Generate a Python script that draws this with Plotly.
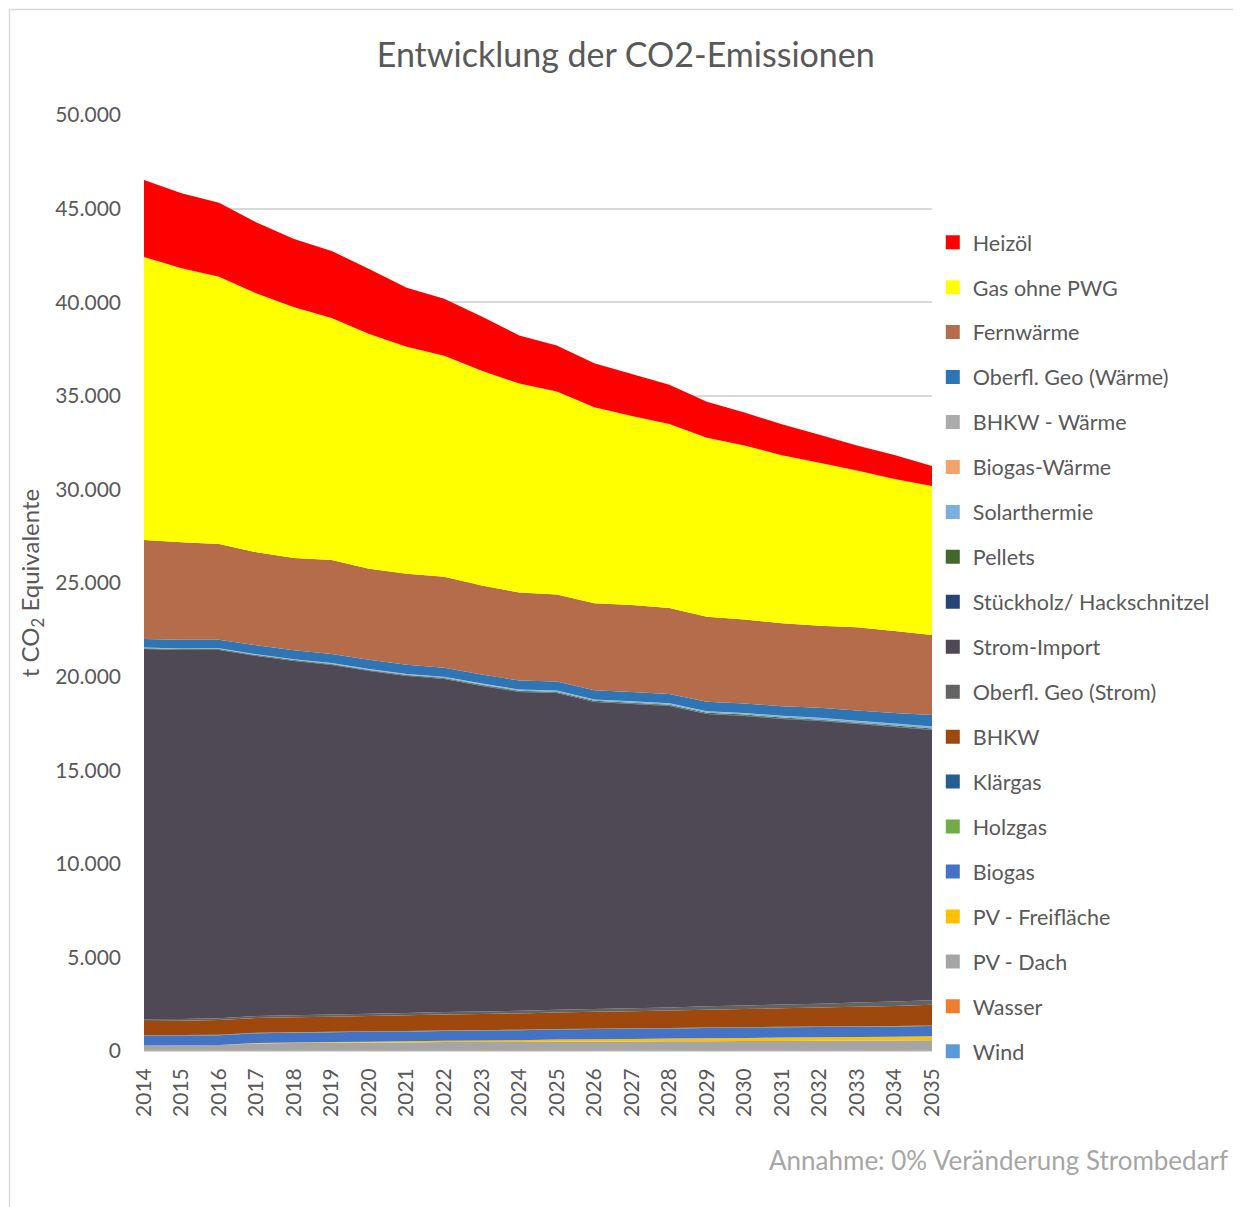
# -*- coding: utf-8 -*-
"""
Gestapeltes Flächendiagramm: Entwicklung der CO2-Emissionen 2014-2035
(t CO2 Äquivalente je Energieträger)
"""

import plotly.graph_objects as go

# Jahre (x-Achse)
years = ['2014', '2015', '2016', '2017', '2018', '2019', '2020', '2021', '2022', '2023', '2024',
         '2025', '2026', '2027', '2028', '2029', '2030', '2031', '2032', '2033', '2034', '2035']

# Werte in t CO2 Äquivalente
heizoel = [4120, 4000, 3950, 3790, 3640, 3580, 3470, 3150, 3040, 2890, 2570,
           2460, 2350, 2250, 2090, 1920, 1760, 1650, 1500, 1340, 1280, 1070]
gas_ohne_pwg = [15110, 14640, 14270, 13830, 13400, 12930, 12550, 12130, 11810, 11480, 11160,
                10840, 10470, 10100, 9830, 9570, 9300, 8980, 8710, 8380, 8120, 7960]
fernwaerme = [5290, 5210, 5120, 4970, 4920, 5020, 4860, 4860, 4860, 4750, 4700,
              4650, 4650, 4640, 4590, 4540, 4480, 4430, 4380, 4440, 4380, 4270]
geo_waerme = [455, 460, 460, 475, 480, 485, 485, 485, 485, 485, 485,
              485, 490, 495, 495, 500, 505, 515, 530, 545, 570, 615]
bhkw_waerme = [10, 10, 10, 10, 10, 10, 10, 10, 10, 10, 10,
               10, 10, 10, 10, 10, 10, 10, 10, 10, 10, 10]
biogas_waerme = [5, 5, 5, 5, 5, 5, 5, 5, 5, 5, 5,
                 5, 5, 5, 5, 5, 5, 5, 5, 5, 5, 5]
solarthermie = [20, 20, 25, 30, 30, 35, 40, 45, 45, 50, 55,
                60, 60, 65, 70, 75, 75, 80, 85, 90, 90, 95]
pellets = [30, 30, 30, 30, 35, 35, 35, 35, 40, 40, 40,
           40, 45, 45, 45, 45, 50, 50, 50, 50, 55, 55]
stueckholz = [20, 20, 20, 20, 20, 20, 20, 20, 20, 20, 20,
              20, 20, 20, 20, 20, 20, 20, 20, 20, 20, 20]
strom_import = [19780, 19705, 19670, 19230, 18915, 18670, 18310, 18000, 17790, 17390, 17035,
                16920, 16395, 16255, 16100, 15615, 15470, 15260, 15100, 14885, 14665, 14435]
geo_strom = [90, 95, 100, 105, 110, 115, 120, 125, 130, 135, 140,
             145, 150, 160, 170, 180, 190, 200, 210, 220, 235, 250]
bhkw = [760, 770, 780, 790, 800, 810, 820, 835, 850, 860, 870,
        885, 900, 915, 930, 950, 970, 990, 1010, 1040, 1070, 1100]
klaergas = [10, 10, 10, 10, 10, 10, 10, 10, 10, 10, 10,
            10, 10, 10, 10, 10, 10, 10, 10, 10, 10, 10]
holzgas = [15, 15, 15, 15, 15, 15, 15, 15, 15, 15, 15,
           15, 15, 15, 15, 15, 15, 15, 15, 15, 15, 15]
biogas = [520, 520, 520, 525, 525, 525, 530, 530, 530, 530, 535,
          535, 540, 540, 540, 545, 545, 545, 550, 550, 550, 555]
pv_freiflaeche = [0, 0, 0, 20, 30, 40, 50, 60, 70, 80, 90,
                  120, 130, 140, 150, 160, 170, 180, 190, 195, 200, 210]
pv_dach = [270, 280, 300, 380, 400, 410, 420, 430, 450, 455, 460,
           465, 475, 480, 490, 500, 505, 515, 520, 530, 540, 550]
wasser = [10, 10, 10, 10, 10, 10, 10, 10, 10, 10, 10,
          10, 10, 10, 10, 10, 10, 10, 10, 10, 10, 10]
wind = [15, 15, 15, 15, 15, 15, 15, 15, 15, 15, 15,
        15, 15, 15, 15, 15, 15, 15, 15, 15, 15, 15]

# Reihenfolge wie in der Legende (oben -> unten); gestapelt wird umgekehrt
series = [
    ('Heizöl', heizoel, '#FF0000'),
    ('Gas ohne PWG', gas_ohne_pwg, '#FFFF00'),
    ('Fernwärme', fernwaerme, '#B46C4B'),
    ('Oberfl. Geo (Wärme)', geo_waerme, '#2E75B6'),
    ('BHKW - Wärme', bhkw_waerme, '#ABABAB'),
    ('Biogas-Wärme', biogas_waerme, '#F4A26C'),
    ('Solarthermie', solarthermie, '#7CAFDD'),
    ('Pellets', pellets, '#43682B'),
    ('Stückholz/ Hackschnitzel', stueckholz, '#264478'),
    ('Strom-Import', strom_import, '#4E4955'),
    ('Oberfl. Geo (Strom)', geo_strom, '#636363'),
    ('BHKW', bhkw, '#9E480E'),
    ('Klärgas', klaergas, '#255E91'),
    ('Holzgas', holzgas, '#70AD47'),
    ('Biogas', biogas, '#4472C4'),
    ('PV - Freifläche', pv_freiflaeche, '#FFC000'),
    ('PV - Dach', pv_dach, '#A5A5A5'),
    ('Wasser', wasser, '#ED7D31'),
    ('Wind', wind, '#5B9BD5'),
]

FONT = 'Lato, "Open Sans", sans-serif'
GREY_TEXT = '#595959'

fig = go.Figure()

# Flächen: von unten (Wind) nach oben (Heizöl)
for name, values, color in reversed(series):
    fig.add_trace(go.Scatter(
        x=years,
        y=values,
        name=name,
        mode='none',
        stackgroup='one',
        fillcolor=color,
        showlegend=False,
        hovertemplate='<b>%{x}</b><br>' + name + ': %{y:,.0f} t<extra></extra>'
    ))

# Legendeneinträge mit quadratischen Symbolen
for name, values, color in series:
    fig.add_trace(go.Scatter(
        x=[None],
        y=[None],
        name=name,
        mode='markers',
        legendgroup=name,
        marker=dict(symbol='square', size=14, color=color),
        hoverinfo='skip'
    ))

# Die Seite hat 8px Rand -> Abbildung entsprechend kleiner
fig.update_layout(
    width=1233,
    height=1199,
    separators=',.',
    font=dict(family=FONT, color=GREY_TEXT),
    title={
        'text': 'Entwicklung der CO2-Emissionen',
        'font': {'size': 34, 'color': GREY_TEXT},
        'xref': 'container',
        'x': 0.501,
        'xanchor': 'center',
        'y': 0.9605,
        'yanchor': 'middle'
    },
    xaxis={
        'type': 'category',
        'range': [0, 21],
        'tickangle': -90,
        'tickfont': {'size': 21, 'color': GREY_TEXT},
        'showgrid': False,
        'showline': False,
        'ticks': '',
        'ticklabelstandoff': 12
    },
    yaxis={
        'range': [0, 50000],
        'dtick': 5000,
        'tickformat': ',',
        'tickfont': {'size': 21, 'color': GREY_TEXT},
        'gridcolor': '#D9D9D9',
        'gridwidth': 1.5,
        'zeroline': True,
        'zerolinecolor': '#D9D9D9',
        'zerolinewidth': 1.5,
        'showline': False,
        'ticklabelstandoff': 22,
        'title': {
            'text': 't CO<sub>2</sub> Equivalente',
            'font': {'size': 24, 'color': GREY_TEXT},
            'standoff': 8
        }
    },
    legend=dict(
        x=1.001,
        xanchor='left',
        y=0.886,
        yanchor='top',
        traceorder='grouped',
        tracegroupgap=14,
        font=dict(size=21.5, color=GREY_TEXT),
        bgcolor='rgba(0,0,0,0)'
    ),
    annotations=[{
        'text': 'Annahme: 0% Veränderung Strombedarf',
        'xref': 'paper',
        'yref': 'paper',
        'x': 1.378,
        'y': -0.1165,
        'xanchor': 'right',
        'yanchor': 'middle',
        'showarrow': False,
        'font': {'size': 26, 'color': '#A6A6A6'}
    }],
    shapes=[{
        'type': 'rect',
        'xref': 'paper',
        'yref': 'paper',
        'x0': -0.1707,
        'x1': 1.45,
        'y0': -0.25,
        'y1': 1.1127,
        'line': {'color': '#D9D9D9', 'width': 1.5},
        'fillcolor': 'rgba(0,0,0,0)',
        'layer': 'below'
    }],
    plot_bgcolor='white',
    paper_bgcolor='white',
    margin={'l': 136, 'r': 309, 't': 107, 'b': 156, 'autoexpand': False}
)

fig.write_html('out.html')
